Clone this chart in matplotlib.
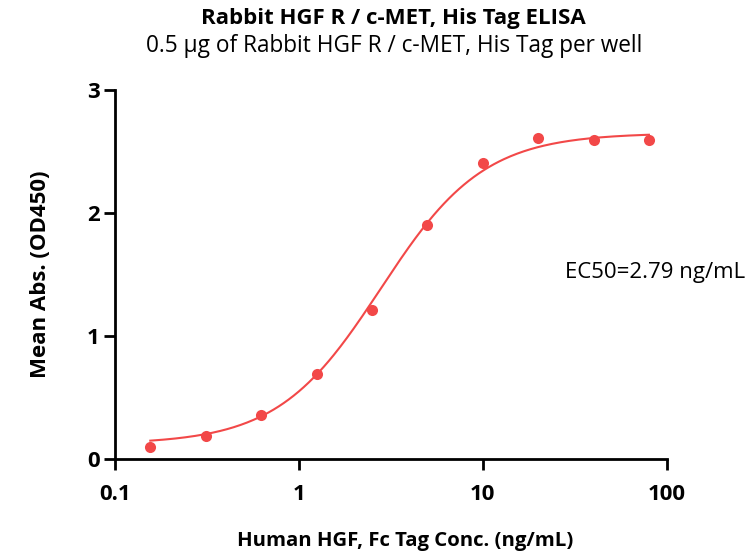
import numpy as np
import matplotlib.pyplot as plt

plt.rcParams['font.family'] = ['Open Sans', 'DejaVu Sans']

# measured points
conc = [0.156, 0.3125, 0.625, 1.25, 2.5, 5, 10, 20, 40, 80]
od450 = [0.10, 0.19, 0.36, 0.69, 1.21, 1.90, 2.41, 2.61, 2.59, 2.59]

# 4PL fit parameters
bottom, top, ec50, hill = 0.12, 2.65, 2.79, 1.55

red = '#f24848'

fig = plt.figure(figsize=(7.5, 5.59), dpi=100)
ax = fig.add_axes([0.153, 0.179, 0.736, 0.66])

xf = np.logspace(np.log10(conc[0]), np.log10(conc[-1]), 300)
yf = bottom + (top - bottom) / (1 + (ec50 / xf) ** hill)
ax.plot(xf, yf, color=red, lw=1.5)
ax.plot(conc, od450, 'o', color=red, ms=8, mec='none')

ax.set_xscale('log')
ax.set_xlim(0.1, 100)
ax.set_ylim(0, 3)
ax.set_xticks([0.1, 1, 10, 100])
ax.set_xticklabels(['0.1', '1', '10', '100'])
ax.set_yticks([0, 1, 2, 3])
ax.minorticks_off()
ax.tick_params(axis='x', which='major', length=8, width=2, labelsize=16, pad=10)
ax.tick_params(axis='y', which='major', length=8, width=2, labelsize=16, pad=3)
for lab in ax.get_xticklabels() + ax.get_yticklabels():
    lab.set_fontweight('bold')

for s in ['top', 'right']:
    ax.spines[s].set_visible(False)
for s in ['left', 'bottom']:
    ax.spines[s].set_linewidth(2)

fig.text(0.54, 0.032, 'Human HGF, Fc Tag Conc. (ng/mL)', ha='center', va='center',
         fontsize=14.7, fontweight='bold')
ax.set_ylabel('Mean Abs. (OD450)', fontsize=16, fontweight='bold', labelpad=26)

fig.text(0.525, 0.967, 'Rabbit HGF R / c-MET, His Tag ELISA', ha='center', va='center',
         fontsize=16, fontweight='bold')
fig.text(0.525, 0.918, '0.5 µg of Rabbit HGF R / c-MET, His Tag per well', ha='center', va='center',
         fontsize=16.3)
ax.text(0.994, 0.513, 'EC50=2.79 ng/mL', transform=fig.transFigure, ha='right', va='center', fontsize=16)

fig.savefig('out.png', dpi=100)
